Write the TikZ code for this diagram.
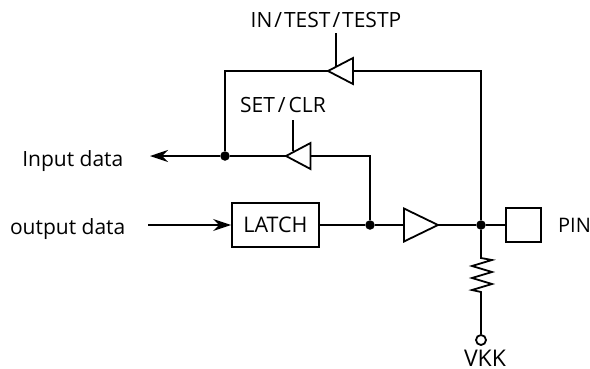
\documentclass[tikz,border=0pt]{standalone}
\usepackage{fontspec}
\setmainfont{Open Sans}
\usetikzlibrary{arrows.meta}
\tikzset{
  wire/.style={line width=1.8pt,line join=miter},
  lbl/.style={inner sep=0pt,font=\fontsize{21}{23}\selectfont},
  dot/.style={circle,fill=black,inner sep=0pt,minimum size=9.5pt},
  boxn/.style={draw,line width=1.8pt,inner sep=0pt},
  arrowwire/.style={wire,-{Stealth[length=18pt,width=12pt,inset=6pt]}},
}
\begin{document}
\begin{tikzpicture}[x=1pt,y=-1pt]
\useasboundingbox (0,0) rectangle (590,368);
% labels
\node[lbl] (ctl1) at (326,20) {IN\hspace{2pt}/\hspace{2pt}TEST\hspace{2pt}/\hspace{2pt}TESTP};
\node[lbl] (ctl2) at (283,105) {SET\hspace{3pt}/\hspace{3pt}CLR};
\node[lbl,anchor=east] (inp) at (123.5,161) {Input data};
\node[lbl,anchor=east] (outp) at (125.5,229) {output data};
\node[lbl,anchor=west,font=\fontsize{20}{22}\selectfont] (pinl) at (558,225) {PIN};
\node[lbl,anchor=base,font=\fontsize{23}{25}\selectfont] (vkkl) at (485,366) {VKK};
% boxes
\node[boxn,minimum width=87pt,minimum height=44pt,font=\fontsize{21.5}{23}\selectfont] (latch) at (275.5,225) {LATCH};
\node[boxn,minimum width=35pt,minimum height=34pt] (pin) at (523.5,225) {};
% junctions
\node[dot] (j1) at (225,156) {};
\node[dot] (j2) at (370,225) {};
\node[dot] (j3) at (481,225) {};
% named points
\coordinate (intip) at (150,156);
\coordinate (outst) at (148,225);
\coordinate (b1tip) at (328,71);
\coordinate (b1base) at (353,71);
\coordinate (b2tip) at (286,156);
\coordinate (b2base) at (310.5,156);
\coordinate (b3base) at (404,225);
\coordinate (b3tip) at (438,225);
\coordinate (c1a) at (336,33);
\coordinate (c1b) at (336,66);
\coordinate (c2a) at (293,120);
\coordinate (c2b) at (293,151);
\coordinate (rtop) at (481,258);
\coordinate (rbot) at (481,292);
\node[draw,circle,line width=1.8pt,fill=white,inner sep=0pt,minimum size=10pt] (vkk) at (481,340) {};
% buffers
\draw[wire] (b1tip) -- ++(25,-13) -- ++(0,26) -- cycle;
\draw[wire] (b2tip) -- ++(24.5,-13) -- ++(0,26) -- cycle;
\draw[wire] (b3base) ++(0,-16.5) -- (b3tip) -- ++(-34,16.5) -- cycle;
% wires
\draw[wire] (b1tip) -| (j1);
\draw[wire] (b1base) -| (j3);
\draw[wire] (b2tip) -- (j1);
\draw[arrowwire] (j1) -- (intip);
\draw[wire] (b2base) -| (j2);
\draw[arrowwire] (outst) -- (latch.west);
\draw[wire] (latch.east) -- (j2) -- (b3base);
\draw[wire] (b3tip) -- (j3) -- (pin.west);
\draw[wire] (c1a) -- (c1b);
\draw[wire] (c2a) -- (c2b);
\draw[wire] (j3) -- (rtop) -- (492,260) -- (472,266) -- (492,272) -- (472,278) -- (492,284) -- (472,290) -- (rbot) -- (vkk);
\end{tikzpicture}
\end{document}
